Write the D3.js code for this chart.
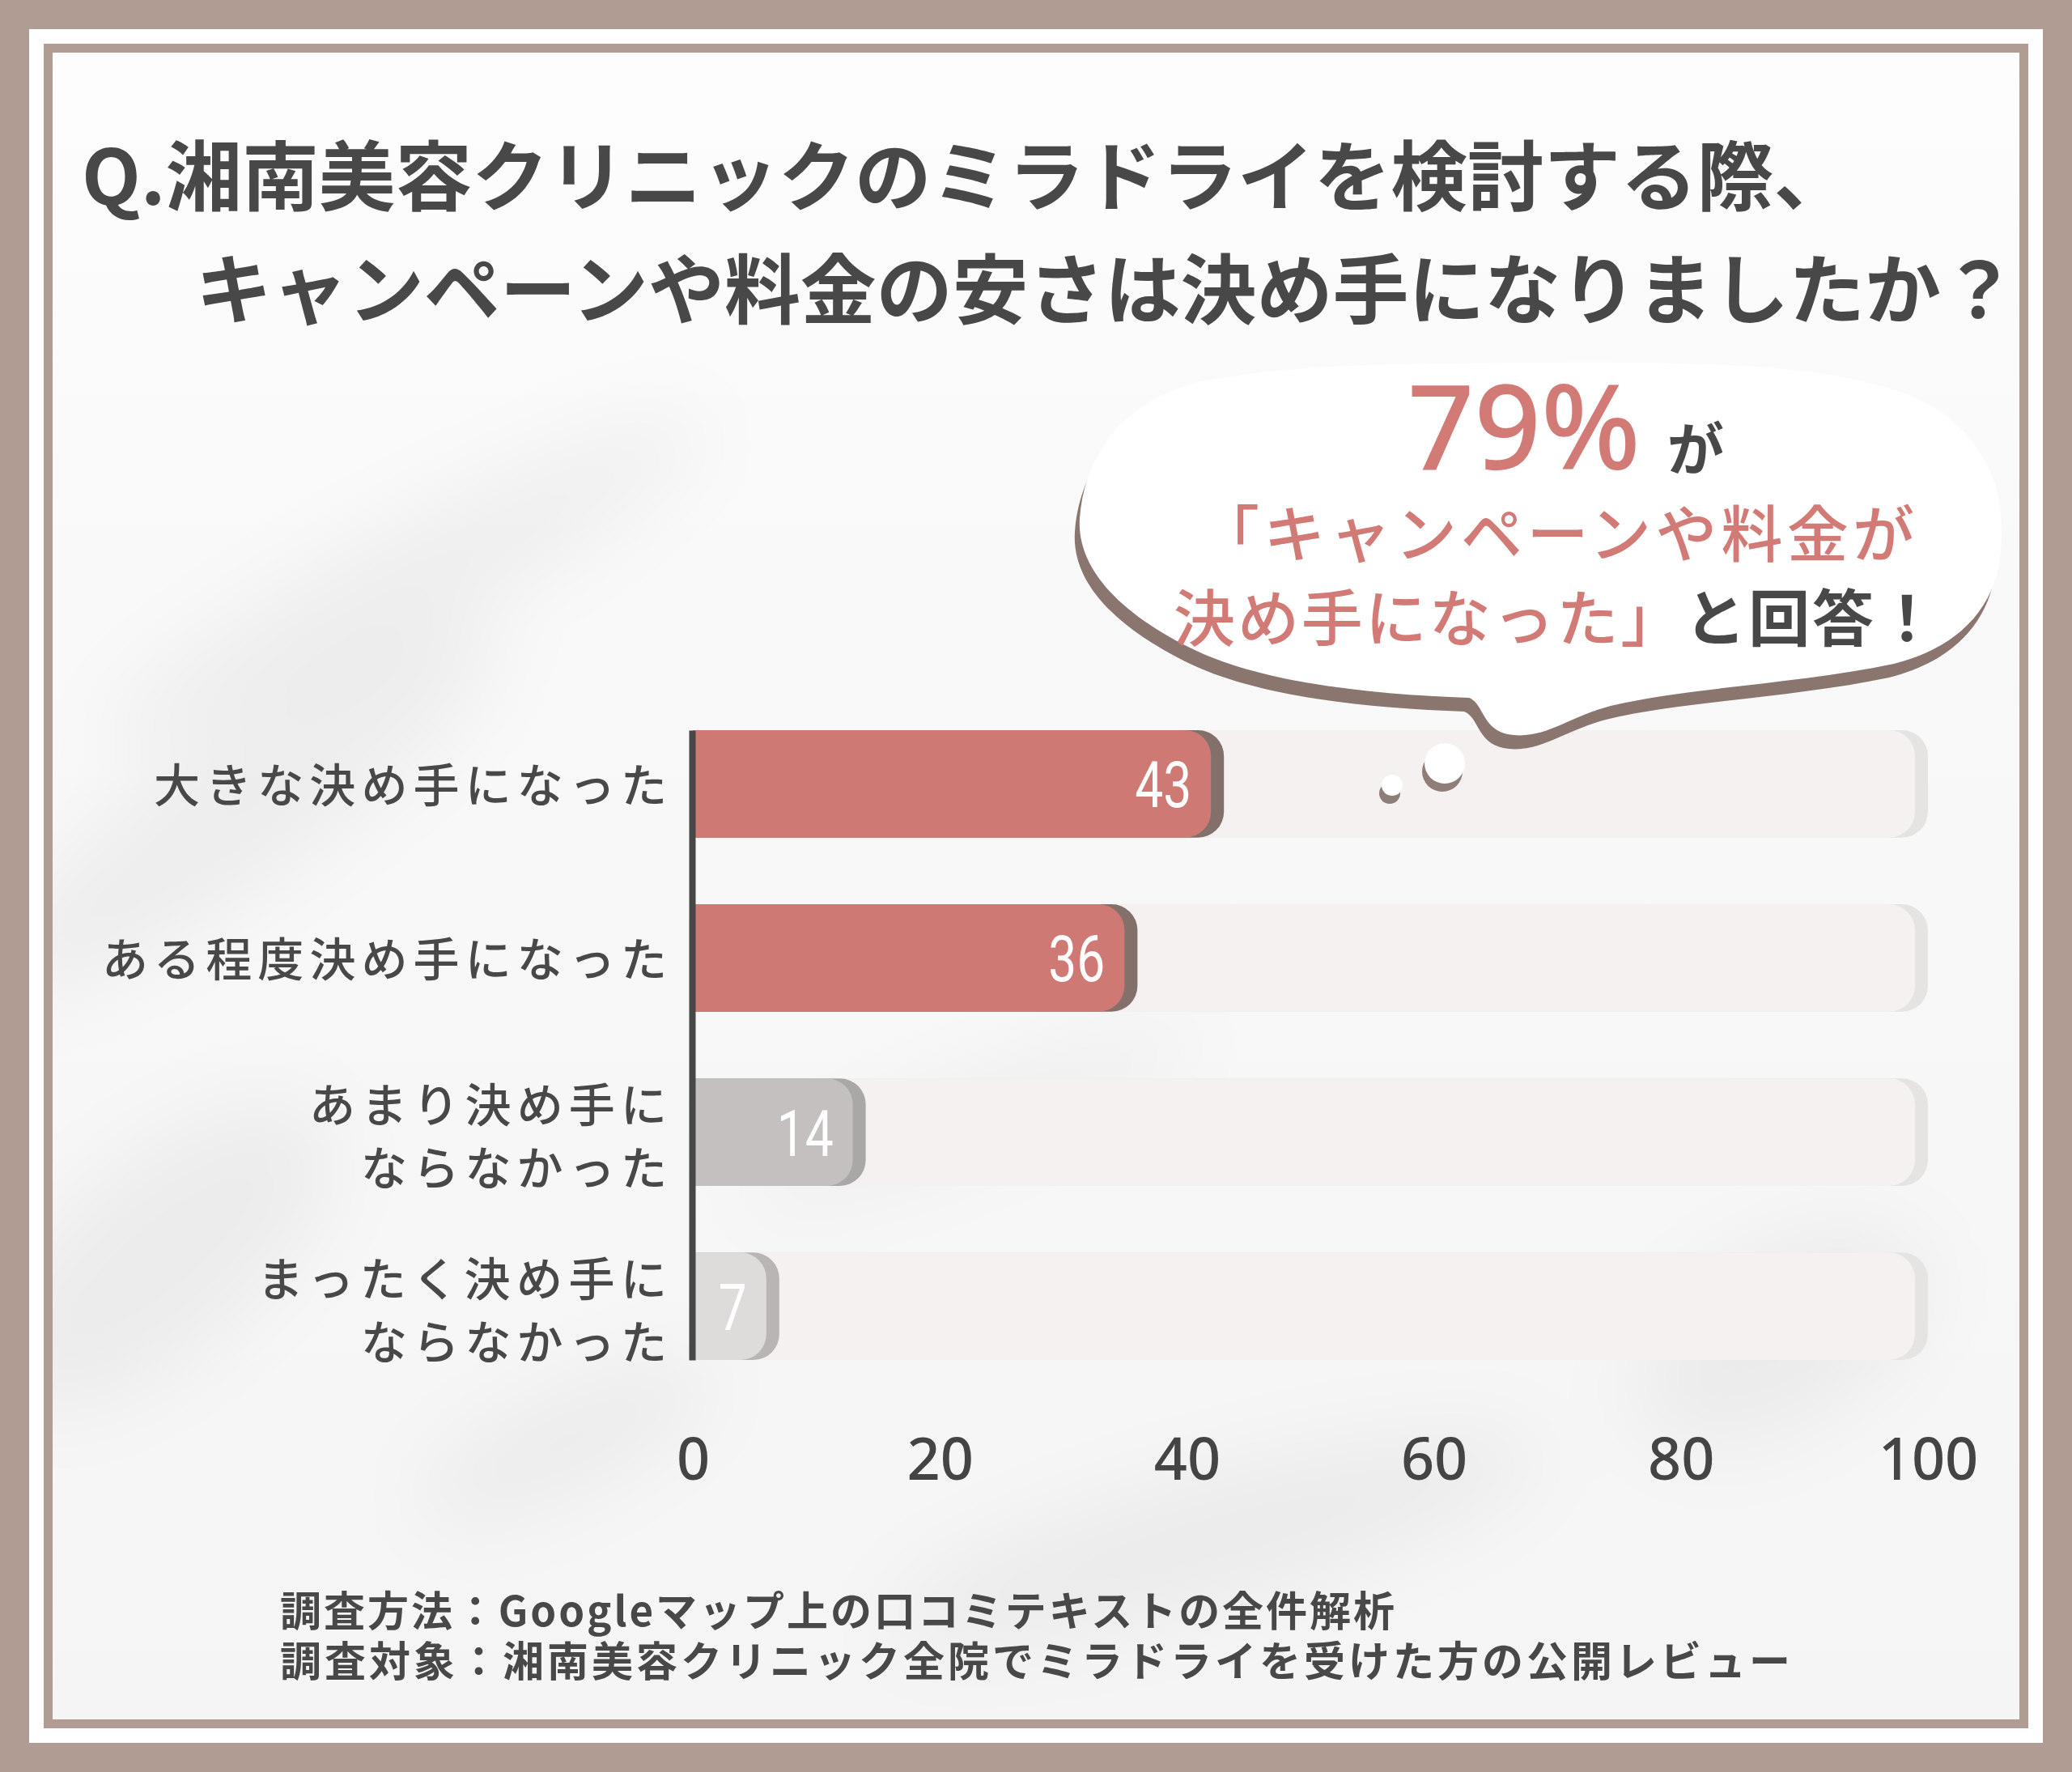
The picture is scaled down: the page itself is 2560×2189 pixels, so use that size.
<!DOCTYPE html>
<html>
<head>
<meta charset="utf-8">
<script src="https://cdn.jsdelivr.net/npm/d3@7"></script>
<style>
  body { margin: 0; background: #b19c93; }
  svg { display: block; }
</style>
</head>
<body>
<script>
// chart data
const categories = ["大きな決め手になった", "ある程度決め手になった", "あまり決め手にならなかった", "まったく決め手にならなかった"]
const categoryLines = [["大きな決め手になった"], ["ある程度決め手になった"], ["あまり決め手に", "ならなかった"], ["まったく決め手に", "ならなかった"]]
const values = [43, 36, 14, 7]
const tickValues = [0, 20, 40, 60, 80, 100]
const titleLines = ["Q.湘南美容クリニックのミラドライを検討する際、", "キャンペーンや料金の安さは決め手になりましたか？"]
const notes = ["調査方法：Googleマップ上の口コミテキストの全件解析", "調査対象：湘南美容クリニック全院でミラドライを受けた方の公開レビュー"]
const highlight = "79%"

// styles
const barColors = ["#cf7974", "#cf7974", "#c3c0bf", "#dddcdb"]
const shadowColors = ["#84706b", "#84706b", "#aaa8a7", "#b8b5b4"]
const frameColor = "#b19c93"
const ink = "#484848"
const red = "#d27a75"
const jp = "'Noto Sans CJK JP', 'Noto Sans', sans-serif"

const W = 2560, H = 2189

const svg = d3.select("body").append("svg")
    .attr("width", W)
    .attr("height", H)
    .style("font-family", jp)

const defs = svg.append("defs")
defs.append("filter").attr("id", "blur").attr("x", "-50%").attr("y", "-50%").attr("width", "200%").attr("height", "200%")
    .append("feGaussianBlur").attr("stdDeviation", 50)
defs.append("clipPath").attr("id", "inner")
    .append("rect").attr("x", 65).attr("y", 65).attr("width", W - 130).attr("height", H - 130)
const grad = defs.append("linearGradient").attr("id", "paper").attr("x1", 0).attr("y1", 0).attr("x2", 0).attr("y2", 1)
grad.append("stop").attr("offset", 0).attr("stop-color", "#fdfdfd")
grad.append("stop").attr("offset", 0.3).attr("stop-color", "#f9f9f9")
grad.append("stop").attr("offset", 1).attr("stop-color", "#f5f5f5")

// frame
svg.append("rect").attr("width", W).attr("height", H).attr("fill", frameColor)
svg.append("rect").attr("x", 36).attr("y", 36).attr("width", W - 72).attr("height", H - 72).attr("fill", "#fff")
svg.append("rect").attr("x", 54).attr("y", 54).attr("width", W - 108).attr("height", H - 108).attr("fill", frameColor)
svg.append("rect").attr("x", 65).attr("y", 65).attr("width", W - 130).attr("height", H - 130).attr("fill", "url(#paper)")

// soft leaf shadows in the background
const bg = svg.append("g").attr("clip-path", "url(#inner)").attr("filter", "url(#blur)")
const blobs = [
    [500, 720, 420, 70, -28], [300, 1000, 380, 90, -35], [200, 1550, 260, 120, -40],
    [1500, 1900, 420, 80, -15], [2200, 1650, 200, 110, -30], [1200, 1380, 300, 40, -20],
    [700, 1780, 200, 60, -25]
]
bg.selectAll("ellipse").data(blobs).join("ellipse")
    .attr("cx", d => d[0]).attr("cy", d => d[1])
    .attr("rx", d => d[2]).attr("ry", d => d[3])
    .attr("transform", d => `rotate(${d[4]},${d[0]},${d[1]})`)
    .attr("fill", "#000").attr("opacity", 0.045)

// title
svg.selectAll(".title").data(titleLines).join("text")
    .attr("class", "title")
    .attr("x", (d, i) => i == 0 ? 101 : 242)
    .attr("y", (d, i) => i == 0 ? 212 : 352)
    .attr("dominant-baseline", "central")
    .attr("textLength", (d, i) => i == 0 ? 2185 : 2250)
    .attr("lengthAdjust", "spacingAndGlyphs")
    .style("font-size", "94px")
    .style("font-weight", 700)
    .attr("fill", ink)
    .text(d => d)

// scales
const x = d3.scaleLinear().domain([0, 100]).range([856, 2382])
const y = d3.scaleBand().domain(categories).range([902, 1680]).paddingInner(0.383).paddingOuter(0)
const bh = y.bandwidth()
const shadowW = 16, r = 32

function rightRounded(x0, y0, w, h, rad) {
    rad = Math.min(rad, w, h / 2)
    return `M${x0},${y0}H${x0 + w - rad}A${rad},${rad} 0 0 1 ${x0 + w},${y0 + rad}V${y0 + h - rad}A${rad},${rad} 0 0 1 ${x0 + w - rad},${y0 + h}H${x0}Z`
}

const rows = categories.map((c, i) => ({ cat: c, value: values[i], lines: categoryLines[i], i: i }))

// background tracks
const tracks = svg.append("g")
tracks.selectAll(".track-shadow").data(rows).join("path")
    .attr("d", d => rightRounded(x(0), y(d.cat), x(100) - x(0), bh, r))
    .attr("fill", "#e5e4e3")
tracks.selectAll(".track").data(rows).join("path")
    .attr("d", d => rightRounded(x(0), y(d.cat), x(100) - x(0) - shadowW, bh, r))
    .attr("fill", "#f4f1f0")

// bars
const bars = svg.append("g")
bars.selectAll(".bar-shadow").data(rows).join("path")
    .attr("d", d => rightRounded(x(0), y(d.cat), x(d.value) - x(0), bh, r))
    .attr("fill", d => shadowColors[d.i])
bars.selectAll(".bar").data(rows).join("path")
    .attr("d", d => rightRounded(x(0), y(d.cat), x(d.value) - x(0) - shadowW, bh, r))
    .attr("fill", d => barColors[d.i])

// value labels
bars.selectAll(".val").data(rows).join("text")
    .attr("x", d => x(d.value) - 40 - String(d.value).length * 35)
    .attr("y", d => y(d.cat) + bh / 2 + 29)
    .attr("textLength", d => String(d.value).length * 35)
    .attr("lengthAdjust", "spacingAndGlyphs")
    .style("font-family", "Roboto, 'Noto Sans', sans-serif")
    .style("font-size", "80px")
    .style("font-weight", 400)
    .attr("fill", "#fff")
    .text(d => d.value)

// y axis line
svg.append("g")
    .attr("transform", `translate(855,0)`)
    .call(d3.axisLeft(y).tickSize(0).tickSizeOuter(0).tickFormat(""))
    .call(g => g.select(".domain").attr("stroke", "#474747").attr("stroke-width", 8))

// category labels
const labels = svg.append("g")
rows.forEach(d => {
    const n = d.lines.length
    d.lines.forEach((line, j) => {
        const len = line.length * 64 - 6
        labels.append("text")
            .attr("x", 824 - len)
            .attr("y", y(d.cat) + bh / 2 + (n == 1 ? -2 : (j == 0 ? -38 : 40)))
            .attr("dominant-baseline", "central")
            .attr("textLength", len)
            .attr("lengthAdjust", "spacing")
            .style("font-size", "57px")
            .style("font-weight", 500)
            .attr("fill", ink)
            .text(line)
    })
})

// x axis
svg.append("g")
    .attr("transform", "translate(0,1800)")
    .call(d3.axisBottom(x).tickValues(tickValues).tickSize(0).tickPadding(0))
    .call(g => g.select(".domain").remove())
    .call(g => g.selectAll("text")
        .attr("y", 0).attr("dy", null)
        .attr("dominant-baseline", "central")
        .style("font-family", "'Noto Sans', sans-serif")
        .style("font-size", "72px")
        .style("font-weight", 500)
        .attr("fill", "#444"))

// speech bubble
const bubble = "M1900,448 C2150,446 2330,452 2410,518 C2465,565 2477,620 2472,680 C2467,750 2420,800 2340,820 " +
    "C2220,845 2080,850 1990,872 C1940,885 1910,912 1870,908 C1830,904 1835,870 1815,862 " +
    "C1700,858 1560,845 1470,800 C1380,755 1330,700 1334,640 C1340,560 1390,495 1480,472 C1600,448 1750,449 1900,448Z"
svg.append("path").attr("d", bubble).attr("transform", "translate(-6,17)").attr("fill", "#8a756f")
svg.append("path").attr("d", bubble).attr("fill", "#fff")

// small dots under the bubble
const dots = [[1785, 943, 25], [1720, 970, 13]]
svg.selectAll(".dot-shadow").data(dots).join("circle")
    .attr("cx", d => d[0] - 3).attr("cy", d => d[1] + 10).attr("r", d => d[2])
    .attr("fill", "#8f7d78")
svg.selectAll(".dot").data(dots).join("circle")
    .attr("cx", d => d[0]).attr("cy", d => d[1]).attr("r", d => d[2])
    .attr("fill", "#fff")

// bubble text
svg.append("text")
    .attr("x", 1739).attr("y", 580)
    .attr("textLength", 288)
    .attr("lengthAdjust", "spacingAndGlyphs")
    .style("font-family", "'Noto Sans', sans-serif")
    .style("font-size", "146px")
    .style("font-weight", 500)
    .attr("fill", red)
    .text(highlight)
svg.append("text")
    .attr("x", 2060).attr("y", 550)
    .attr("dominant-baseline", "central")
    .style("font-size", "70px")
    .style("font-weight", 700)
    .attr("fill", ink)
    .text("が")
svg.append("text")
    .attr("x", 1480).attr("y", 655)
    .attr("dominant-baseline", "central")
    .attr("textLength", 885)
    .attr("lengthAdjust", "spacing")
    .style("font-size", "76px")
    .style("font-weight", 500)
    .attr("fill", red)
    .text("「キャンペーンや料金が")
const l3 = svg.append("text")
    .attr("x", 1450).attr("y", 759)
    .attr("dominant-baseline", "central")
    .attr("textLength", 944)
    .attr("lengthAdjust", "spacing")
    .style("font-size", "76px")
    .style("font-weight", 500)
l3.append("tspan").attr("fill", red).text("決め手になった」")
l3.append("tspan").attr("fill", ink).style("font-weight", 700).text("と回答！")

// notes
svg.selectAll(".note").data(notes).join("text")
    .attr("class", "note")
    .attr("x", 346)
    .attr("y", (d, i) => i == 0 ? 1987 : 2049)
    .attr("dominant-baseline", "central")
    .attr("textLength", (d, i) => i == 0 ? 1377 : 1866)
    .attr("lengthAdjust", "spacing")
    .style("font-size", "51px")
    .style("font-weight", 700)
    .attr("fill", ink)
    .text(d => d)
</script>
</body>
</html>
